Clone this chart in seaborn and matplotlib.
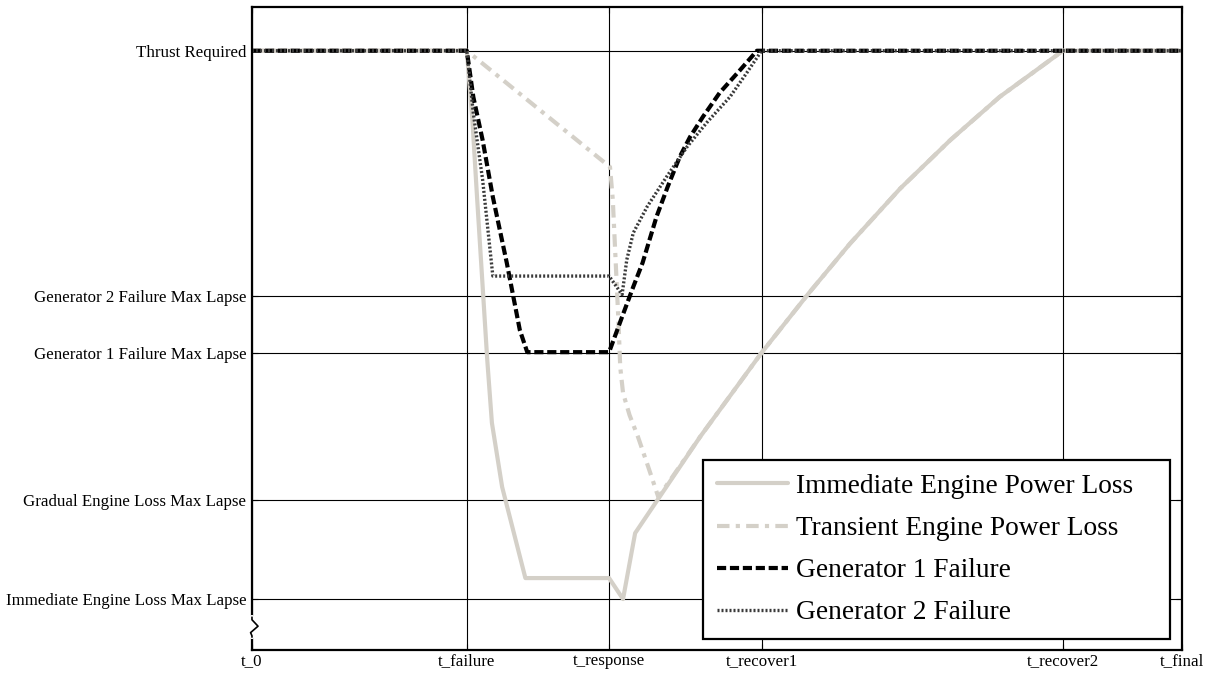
import matplotlib
matplotlib.use('Agg')
import matplotlib.pyplot as plt
import seaborn as sns

# tick positions (time axis normalised so that t_final = 100, thrust required = 1.0)
x_ticks = [0, 23.1, 38.4, 54.8, 87.2, 100]
x_labels = ['t_0', 't_failure', 't_response', 't_recover1', 't_recover2', 't_final']
y_ticks = [0.085, 0.250, 0.496, 0.591, 1.0]
y_labels = ['Immediate Engine Loss Max Lapse', 'Gradual Engine Loss Max Lapse',
            'Generator 1 Failure Max Lapse', 'Generator 2 Failure Max Lapse',
            'Thrust Required']

# Immediate Engine Power Loss
imm_t = [0, 23.1, 23.7, 24.2, 25.3, 25.8, 26.9, 29.4, 38.4, 39.9, 41.2, 48.2,
         54.8, 59.8, 64.3, 69.7, 75.1, 80.4, 87.2, 100]
imm_y = [1.0, 1.0, 0.885, 0.756, 0.484, 0.379, 0.272, 0.120, 0.120, 0.085,
         0.195, 0.356, 0.496, 0.594, 0.678, 0.770, 0.851, 0.923, 1.0, 1.0]

# Transient Engine Power Loss
tra_t = [0, 23.1, 38.5, 38.8, 39.1, 39.4, 39.6, 39.9, 40.6, 41.5, 42.6, 43.7,
         48.2, 54.8, 59.8, 64.3, 69.7, 75.1, 80.4, 87.2, 100]
tra_y = [1.0, 1.0, 0.806, 0.751, 0.651, 0.551, 0.472, 0.429, 0.392, 0.356,
         0.306, 0.255, 0.356, 0.496, 0.594, 0.678, 0.770, 0.851, 0.923,
         1.0, 1.0]

# Generator 1 Failure
g1_t = [0, 23.1, 23.8, 24.8, 25.9, 27.4, 28.8, 29.6, 38.4, 39.8, 41.0, 42.0,
        43.5, 44.7, 46.0, 47.1, 48.5, 50.3, 52.5, 54.3, 100]
g1_y = [1.0, 1.0, 0.923, 0.851, 0.756, 0.646, 0.534, 0.497, 0.497, 0.556,
        0.606, 0.646, 0.723, 0.773, 0.823, 0.856, 0.890, 0.930, 0.968, 1.0, 1.0]

# Generator 2 Failure
g2_t = [0, 23.1, 23.8, 24.8, 25.9, 38.4, 39.8, 40.3, 41.0, 42.5, 44.6, 46.8,
        48.9, 51.4, 53.2, 54.8, 100]
g2_y = [1.0, 1.0, 0.896, 0.785, 0.624, 0.624, 0.593, 0.651, 0.696, 0.740,
        0.790, 0.840, 0.880, 0.923, 0.963, 1.0, 1.0]

sns.set_theme(style='white')
plt.rcParams['font.family'] = ['Liberation Serif', 'DejaVu Serif']

fig = plt.figure(figsize=(12.12, 6.73), dpi=100)
ax = fig.add_axes([0.2079, 0.0342, 0.7673, 0.9554])

light = '#d4d0c8'
sns.lineplot(x=imm_t, y=imm_y, ax=ax, color=light, lw=3.0, sort=False,
             estimator=None, label='Immediate Engine Power Loss')
sns.lineplot(x=tra_t, y=tra_y, ax=ax, color=light, lw=3.0, sort=False,
             estimator=None, linestyle=(0, (3, 1.5, 1, 1.5)),
             label='Transient Engine Power Loss')
sns.lineplot(x=g1_t, y=g1_y, ax=ax, color='black', lw=3.0, sort=False,
             estimator=None, linestyle=(0, (2.2, 0.9)),
             label='Generator 1 Failure')
sns.lineplot(x=g2_t, y=g2_y, ax=ax, color='#3a3a3a', lw=2.4, sort=False,
             estimator=None, linestyle=(0, (0.6, 0.6)),
             label='Generator 2 Failure')

ax.set_xlim(0, 100)
ax.set_ylim(0, 1.073)
ax.set_xticks(x_ticks)
ax.set_xticklabels(x_labels)
ax.set_yticks(y_ticks)
ax.set_yticklabels(y_labels)
ax.grid(True, color='black', lw=0.8)
ax.set_axisbelow(True)
ax.tick_params(axis='both', direction='in', length=4, width=0.8,
               right=True, top=True, left=True, bottom=True,
               labelsize=12.2, colors='black')
ax.tick_params(axis='y', pad=4)
ax.tick_params(axis='x', pad=2)
for s in ax.spines.values():
  s.set_color('black')
  s.set_linewidth(1.6)
  s.set_visible(True)

# axis break mark on the left spine
ax.plot([0, 0], [0.020, 0.051], transform=ax.transAxes, color='white',
        lw=3, clip_on=False, zorder=5)
ax.plot([0, 0, 0.0065, -0.0015, 0, 0], [0.051, 0.047, 0.037, 0.027, 0.022, 0.020],
        transform=ax.transAxes, color='black', lw=1.2, clip_on=False, zorder=6)

leg = ax.legend(loc='lower left', bbox_to_anchor=(0.485, 0.017, 0.502, 0.286),
                mode='expand', borderaxespad=0, fontsize=19.7, frameon=True,
                fancybox=False, framealpha=1, edgecolor='black',
                handlelength=2.6, handletextpad=0.3, labelspacing=0.62,
                borderpad=0.5, labelcolor='black')
leg.get_frame().set_linewidth(1.6)

fig.savefig('out.png', dpi=100)
